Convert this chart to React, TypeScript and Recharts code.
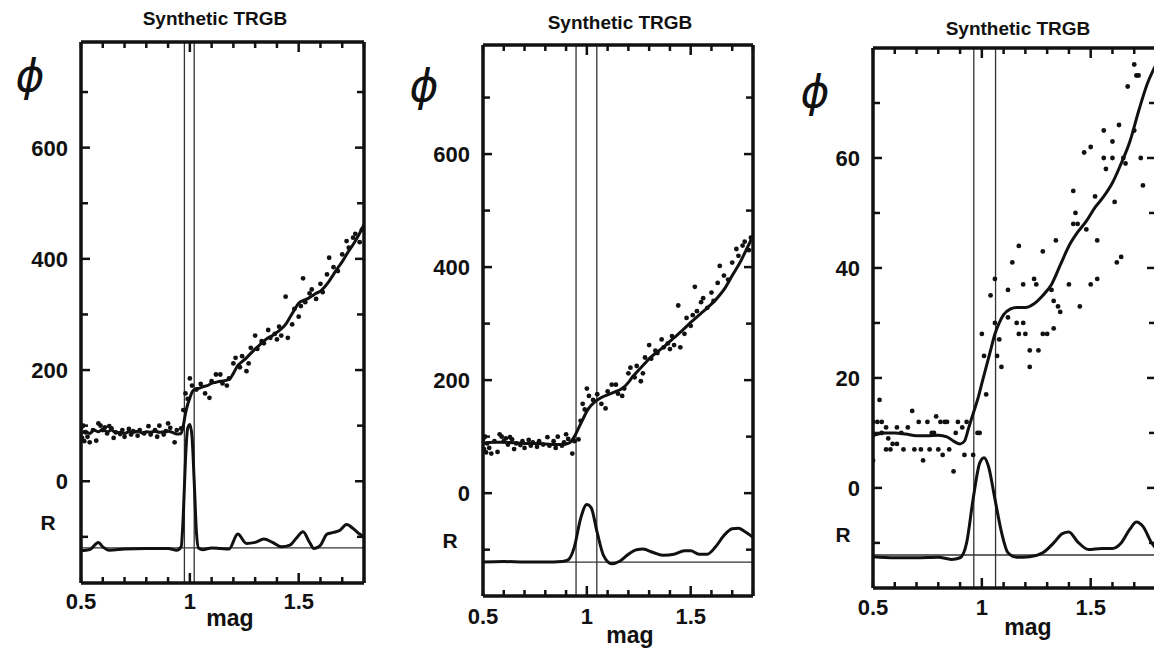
import React from 'react'
import {
    ComposedChart,
    Line,
    Scatter,
    XAxis,
    YAxis,
    ReferenceLine
} from "recharts";

// x ticks (shared by all panels)
const X_TICKS = [0.5, 0.6, 0.7, 0.8, 0.9, 1, 1.1, 1.2, 1.3, 1.4, 1.5, 1.6, 1.7, 1.8];
const X_LABELS = [0.5, 1, 1.5];

const Y_TICKS_BIG = [-100, 0, 100, 200, 300, 400, 500, 600, 700];
const Y_LABELS_BIG = [0, 200, 400, 600];
const Y_TICKS_SMALL = [-10, 0, 10, 20, 30, 40, 50, 60, 70];
const Y_LABELS_SMALL = [0, 20, 40, 60];

// panel 1 + 2 share the same star counts
const POINTS_12 = [
    { x: 0.5, y: 95 }, { x: 0.505, y: 78 }, { x: 0.51, y: 100 }, { x: 0.515, y: 72 }, { x: 0.52, y: 88 },
    { x: 0.53, y: 80 }, { x: 0.54, y: 70 }, { x: 0.555, y: 92 }, { x: 0.57, y: 73 }, { x: 0.58, y: 104 },
    { x: 0.59, y: 100 }, { x: 0.6, y: 92 }, { x: 0.61, y: 97 }, { x: 0.62, y: 86 }, { x: 0.63, y: 99 },
    { x: 0.64, y: 95 }, { x: 0.65, y: 78 }, { x: 0.66, y: 88 }, { x: 0.68, y: 85 }, { x: 0.69, y: 92 },
    { x: 0.7, y: 80 }, { x: 0.72, y: 94 }, { x: 0.73, y: 84 }, { x: 0.74, y: 90 }, { x: 0.76, y: 82 },
    { x: 0.77, y: 92 }, { x: 0.79, y: 86 }, { x: 0.81, y: 99 }, { x: 0.82, y: 84 }, { x: 0.84, y: 92 },
    { x: 0.85, y: 80 }, { x: 0.86, y: 100 }, { x: 0.88, y: 84 }, { x: 0.89, y: 90 }, { x: 0.9, y: 104 },
    { x: 0.91, y: 96 }, { x: 0.93, y: 70 }, { x: 0.94, y: 92 }, { x: 0.96, y: 95 }, { x: 0.97, y: 128 },
    { x: 0.98, y: 158 }, { x: 0.99, y: 148 }, { x: 1.0, y: 185 }, { x: 1.01, y: 172 }, { x: 1.03, y: 165 },
    { x: 1.05, y: 175 }, { x: 1.07, y: 158 }, { x: 1.09, y: 150 }, { x: 1.1, y: 180 }, { x: 1.12, y: 192 },
    { x: 1.14, y: 192 }, { x: 1.15, y: 176 }, { x: 1.17, y: 172 }, { x: 1.18, y: 185 }, { x: 1.2, y: 212 },
    { x: 1.21, y: 222 }, { x: 1.23, y: 205 }, { x: 1.24, y: 225 }, { x: 1.26, y: 198 }, { x: 1.27, y: 212 },
    { x: 1.28, y: 240 }, { x: 1.3, y: 262 }, { x: 1.31, y: 238 }, { x: 1.33, y: 252 }, { x: 1.34, y: 248 },
    { x: 1.36, y: 272 }, { x: 1.37, y: 258 }, { x: 1.39, y: 265 }, { x: 1.4, y: 255 }, { x: 1.41, y: 278 },
    { x: 1.42, y: 262 }, { x: 1.44, y: 332 }, { x: 1.45, y: 258 }, { x: 1.47, y: 282 }, { x: 1.48, y: 310 },
    { x: 1.5, y: 296 }, { x: 1.51, y: 315 }, { x: 1.52, y: 365 }, { x: 1.53, y: 322 }, { x: 1.55, y: 338 },
    { x: 1.56, y: 345 }, { x: 1.58, y: 328 }, { x: 1.6, y: 355 }, { x: 1.61, y: 340 }, { x: 1.63, y: 372 },
    { x: 1.64, y: 402 }, { x: 1.66, y: 385 }, { x: 1.68, y: 378 }, { x: 1.7, y: 408 }, { x: 1.72, y: 432 },
    { x: 1.73, y: 420 }, { x: 1.75, y: 438 }, { x: 1.76, y: 445 }, { x: 1.78, y: 430 }, { x: 1.79, y: 452 }
];

const CURVE_1 = [
    { x: 0.5, y: 85 }, { x: 0.52, y: 90 }, { x: 0.54, y: 86 }, { x: 0.56, y: 92 }, { x: 0.58, y: 89 },
    { x: 0.6, y: 93 }, { x: 0.62, y: 89 }, { x: 0.64, y: 92 }, { x: 0.66, y: 87 }, { x: 0.68, y: 88 },
    { x: 0.7, y: 86 }, { x: 0.72, y: 89 }, { x: 0.74, y: 88 }, { x: 0.76, y: 90 }, { x: 0.78, y: 87 },
    { x: 0.8, y: 89 }, { x: 0.82, y: 88 }, { x: 0.84, y: 90 }, { x: 0.86, y: 88 }, { x: 0.88, y: 89 },
    { x: 0.9, y: 90 }, { x: 0.92, y: 88 }, { x: 0.94, y: 85 }, { x: 0.96, y: 86 }, { x: 0.97, y: 100 },
    { x: 0.98, y: 122 }, { x: 0.99, y: 138 }, { x: 1.0, y: 150 }, { x: 1.01, y: 160 }, { x: 1.02, y: 165 },
    { x: 1.04, y: 167 }, { x: 1.06, y: 170 }, { x: 1.08, y: 172 }, { x: 1.1, y: 176 }, { x: 1.12, y: 178 },
    { x: 1.14, y: 180 }, { x: 1.16, y: 181 }, { x: 1.18, y: 183 }, { x: 1.2, y: 194 }, { x: 1.22, y: 208 },
    { x: 1.24, y: 215 }, { x: 1.26, y: 222 }, { x: 1.28, y: 230 }, { x: 1.3, y: 238 }, { x: 1.32, y: 245 },
    { x: 1.34, y: 252 }, { x: 1.36, y: 258 }, { x: 1.38, y: 262 }, { x: 1.4, y: 268 }, { x: 1.42, y: 274 },
    { x: 1.44, y: 282 }, { x: 1.46, y: 295 }, { x: 1.48, y: 308 }, { x: 1.5, y: 320 }, { x: 1.52, y: 325 },
    { x: 1.54, y: 328 }, { x: 1.56, y: 333 }, { x: 1.58, y: 338 }, { x: 1.6, y: 342 }, { x: 1.62, y: 350 },
    { x: 1.64, y: 360 }, { x: 1.66, y: 372 }, { x: 1.68, y: 384 }, { x: 1.7, y: 395 }, { x: 1.72, y: 408 },
    { x: 1.74, y: 420 }, { x: 1.76, y: 432 }, { x: 1.78, y: 446 }, { x: 1.8, y: 462 }
];

const R_1 = [
    { x: 0.5, y: -125 }, { x: 0.54, y: -123 }, { x: 0.58, y: -110 }, { x: 0.6, y: -118 }, { x: 0.63, y: -124 },
    { x: 0.7, y: -122 }, { x: 0.8, y: -121 }, { x: 0.9, y: -121 }, { x: 0.94, y: -124 }, { x: 0.96, y: -118 },
    { x: 0.97, y: -60 }, { x: 0.98, y: 40 }, { x: 0.99, y: 95 }, { x: 1.0, y: 102 }, { x: 1.01, y: 80 },
    { x: 1.02, y: 0 }, { x: 1.03, y: -90 }, { x: 1.04, y: -120 }, { x: 1.06, y: -123 }, { x: 1.1, y: -120 },
    { x: 1.14, y: -121 }, { x: 1.18, y: -122 }, { x: 1.22, y: -95 }, { x: 1.26, y: -112 }, { x: 1.3, y: -110 },
    { x: 1.34, y: -104 }, { x: 1.38, y: -110 }, { x: 1.42, y: -118 }, { x: 1.46, y: -115 }, { x: 1.49, y: -102 },
    { x: 1.52, y: -91 }, { x: 1.55, y: -110 }, { x: 1.57, y: -121 }, { x: 1.6, y: -115 }, { x: 1.63, y: -95 },
    { x: 1.66, y: -92 }, { x: 1.69, y: -88 }, { x: 1.72, y: -78 }, { x: 1.75, y: -85 }, { x: 1.78, y: -95 },
    { x: 1.8, y: -100 }
];

const CURVE_2 = [
    { x: 0.5, y: 88 }, { x: 0.55, y: 90 }, { x: 0.6, y: 90 }, { x: 0.65, y: 89 }, { x: 0.7, y: 88 },
    { x: 0.75, y: 88 }, { x: 0.8, y: 87 }, { x: 0.85, y: 86 }, { x: 0.88, y: 86 }, { x: 0.9, y: 87 },
    { x: 0.92, y: 90 }, { x: 0.94, y: 100 }, { x: 0.96, y: 115 }, { x: 0.98, y: 130 }, { x: 1.0, y: 145 },
    { x: 1.02, y: 155 }, { x: 1.04, y: 162 }, { x: 1.06, y: 167 }, { x: 1.08, y: 171 }, { x: 1.1, y: 174 },
    { x: 1.12, y: 177 }, { x: 1.14, y: 180 }, { x: 1.16, y: 183 }, { x: 1.18, y: 188 }, { x: 1.2, y: 196 },
    { x: 1.22, y: 206 }, { x: 1.24, y: 214 }, { x: 1.26, y: 222 }, { x: 1.28, y: 230 }, { x: 1.3, y: 238 },
    { x: 1.34, y: 250 }, { x: 1.38, y: 262 }, { x: 1.42, y: 275 }, { x: 1.46, y: 288 }, { x: 1.5, y: 302 },
    { x: 1.54, y: 315 }, { x: 1.58, y: 328 }, { x: 1.62, y: 342 }, { x: 1.66, y: 360 }, { x: 1.7, y: 385 },
    { x: 1.74, y: 410 }, { x: 1.78, y: 440 }, { x: 1.8, y: 455 }
];

const R_2 = [
    { x: 0.5, y: -122 }, { x: 0.6, y: -121 }, { x: 0.7, y: -122 }, { x: 0.8, y: -122 }, { x: 0.88, y: -121 },
    { x: 0.91, y: -118 }, { x: 0.94, y: -95 }, { x: 0.97, y: -45 }, { x: 1.0, y: -20 }, { x: 1.02, y: -25 },
    { x: 1.05, y: -70 }, { x: 1.08, y: -110 }, { x: 1.12, y: -125 }, { x: 1.16, y: -120 }, { x: 1.2, y: -108 },
    { x: 1.24, y: -100 }, { x: 1.27, y: -99 }, { x: 1.32, y: -105 }, { x: 1.37, y: -110 }, { x: 1.42, y: -108 },
    { x: 1.47, y: -102 }, { x: 1.5, y: -102 }, { x: 1.54, y: -108 }, { x: 1.58, y: -108 }, { x: 1.62, y: -95 },
    { x: 1.66, y: -75 }, { x: 1.7, y: -63 }, { x: 1.73, y: -62 }, { x: 1.76, y: -68 }, { x: 1.8, y: -78 }
];

const POINTS_3 = [
    { x: 0.5, y: 12 }, { x: 0.5, y: 5 }, { x: 0.52, y: 12 }, { x: 0.53, y: 16 }, { x: 0.54, y: 12 },
    { x: 0.54, y: 10 }, { x: 0.56, y: 11 }, { x: 0.56, y: 7 }, { x: 0.57, y: 9 }, { x: 0.58, y: 7 },
    { x: 0.59, y: 8 }, { x: 0.61, y: 11 }, { x: 0.61, y: 8 }, { x: 0.63, y: 10 }, { x: 0.64, y: 7 },
    { x: 0.66, y: 11 }, { x: 0.68, y: 14 }, { x: 0.69, y: 7 }, { x: 0.71, y: 12 }, { x: 0.72, y: 7 },
    { x: 0.73, y: 5 }, { x: 0.75, y: 12 }, { x: 0.76, y: 7 }, { x: 0.77, y: 10 }, { x: 0.78, y: 10 },
    { x: 0.79, y: 13 }, { x: 0.8, y: 7 }, { x: 0.81, y: 12 }, { x: 0.82, y: 6 }, { x: 0.83, y: 12 },
    { x: 0.84, y: 12 }, { x: 0.85, y: 7 }, { x: 0.87, y: 3 }, { x: 0.88, y: 10 }, { x: 0.89, y: 12 },
    { x: 0.91, y: 11 }, { x: 0.92, y: 6 }, { x: 0.93, y: 12 }, { x: 0.96, y: 6 }, { x: 0.98, y: 10 },
    { x: 0.99, y: 10 }, { x: 1.0, y: 28 }, { x: 1.01, y: 24 }, { x: 1.02, y: 17 }, { x: 1.04, y: 35 },
    { x: 1.06, y: 38 }, { x: 1.06, y: 30 }, { x: 1.07, y: 24 }, { x: 1.08, y: 27 }, { x: 1.09, y: 22 },
    { x: 1.12, y: 36 }, { x: 1.12, y: 31 }, { x: 1.14, y: 41 }, { x: 1.16, y: 30 }, { x: 1.17, y: 44 },
    { x: 1.17, y: 28 }, { x: 1.19, y: 37 }, { x: 1.19, y: 30 }, { x: 1.2, y: 28 }, { x: 1.22, y: 25 },
    { x: 1.22, y: 22 }, { x: 1.24, y: 38 }, { x: 1.25, y: 37 }, { x: 1.26, y: 25 }, { x: 1.28, y: 43 },
    { x: 1.28, y: 28 }, { x: 1.3, y: 28 }, { x: 1.32, y: 36 }, { x: 1.33, y: 34 }, { x: 1.33, y: 29 },
    { x: 1.34, y: 45 }, { x: 1.35, y: 33 }, { x: 1.36, y: 32 }, { x: 1.4, y: 37 }, { x: 1.42, y: 54 },
    { x: 1.42, y: 48 }, { x: 1.43, y: 50 }, { x: 1.44, y: 48 }, { x: 1.45, y: 33 }, { x: 1.47, y: 61 },
    { x: 1.48, y: 47 }, { x: 1.5, y: 62 }, { x: 1.5, y: 37 }, { x: 1.52, y: 53 }, { x: 1.53, y: 45 },
    { x: 1.53, y: 38 }, { x: 1.56, y: 65 }, { x: 1.56, y: 60 }, { x: 1.57, y: 58 }, { x: 1.6, y: 63 },
    { x: 1.6, y: 60 }, { x: 1.61, y: 52 }, { x: 1.62, y: 41 }, { x: 1.63, y: 66 }, { x: 1.64, y: 42 },
    { x: 1.65, y: 60 }, { x: 1.66, y: 59 }, { x: 1.67, y: 73 }, { x: 1.7, y: 77 }, { x: 1.71, y: 75 },
    { x: 1.72, y: 75 }, { x: 1.7, y: 65 }, { x: 1.74, y: 55 }, { x: 1.73, y: 60 }
];

const CURVE_3 = [
    { x: 0.5, y: 9.5 }, { x: 0.55, y: 10 }, { x: 0.6, y: 10 }, { x: 0.65, y: 9.8 }, { x: 0.7, y: 9.5 },
    { x: 0.75, y: 9.5 }, { x: 0.8, y: 9.6 }, { x: 0.84, y: 9.3 }, { x: 0.87, y: 8.5 }, { x: 0.9, y: 8 },
    { x: 0.92, y: 8.5 }, { x: 0.94, y: 11 }, { x: 0.96, y: 13.5 }, { x: 0.98, y: 16 }, { x: 1.0, y: 19 },
    { x: 1.02, y: 22 }, { x: 1.04, y: 25 }, { x: 1.06, y: 28 }, { x: 1.08, y: 30 }, { x: 1.1, y: 31.5 },
    { x: 1.13, y: 32.5 }, { x: 1.16, y: 32.8 }, { x: 1.2, y: 32.8 }, { x: 1.24, y: 33.5 }, { x: 1.28, y: 35 },
    { x: 1.32, y: 37 }, { x: 1.36, y: 40.5 }, { x: 1.4, y: 44 }, { x: 1.44, y: 46.5 }, { x: 1.48, y: 48.5 },
    { x: 1.52, y: 51 }, { x: 1.56, y: 53 }, { x: 1.6, y: 55.5 }, { x: 1.64, y: 59 }, { x: 1.68, y: 63 },
    { x: 1.72, y: 68.5 }, { x: 1.76, y: 73.5 }, { x: 1.8, y: 77 }
];

const R_3 = [
    { x: 0.5, y: -12.5 }, { x: 0.6, y: -12.7 }, { x: 0.7, y: -12.7 }, { x: 0.8, y: -12.6 }, { x: 0.86, y: -13 },
    { x: 0.9, y: -12.7 }, { x: 0.93, y: -10 }, { x: 0.96, y: -2 }, { x: 0.99, y: 4.5 }, { x: 1.01, y: 5.5 },
    { x: 1.03, y: 4 }, { x: 1.06, y: -2 }, { x: 1.09, y: -8 }, { x: 1.12, y: -11.8 }, { x: 1.16, y: -12.6 },
    { x: 1.22, y: -12.5 }, { x: 1.28, y: -11.8 }, { x: 1.33, y: -10 }, { x: 1.37, y: -8.3 }, { x: 1.4, y: -8 },
    { x: 1.44, y: -9.8 }, { x: 1.49, y: -11.2 }, { x: 1.55, y: -11 }, { x: 1.6, y: -11 }, { x: 1.64, y: -10 },
    { x: 1.68, y: -7.5 }, { x: 1.71, y: -6.2 }, { x: 1.74, y: -7 }, { x: 1.78, y: -10 }, { x: 1.8, y: -11 }
];

const FONT = '"Liberation Sans", Arial, sans-serif';
const INK = '#111';

const isIn = (v: number, list: number[]) => list.some((l) => Math.abs(l - v) < 1e-6);

const makeXTick = (side: 'top' | 'bottom', labelDy: number) => (props: any) => {
    const { x, y, payload } = props;
    const major = isIn(payload.value, X_LABELS) && payload.value !== 0.5;
    const len = major ? 10 : 6;
    const dir = side === 'bottom' ? -1 : 1;
    return (
        <g>
            <line x1={x} y1={y} x2={x} y2={y + dir * len} stroke={INK} strokeWidth={2.5} />
            {side === 'bottom' && isIn(payload.value, X_LABELS) && (
                <text x={x} y={y + labelDy} textAnchor="middle" fontFamily={FONT} fontWeight="bold" fontSize={22} fill={INK}>
                    {payload.value}
                </text>
            )}
        </g>
    );
};

const makeYTick = (side: 'left' | 'right', labels: number[]) => (props: any) => {
    const { x, y, payload } = props;
    const major = isIn(payload.value, labels);
    const len = major ? 9 : 7;
    const dir = side === 'left' ? 1 : -1;
    return (
        <g>
            <line x1={x} y1={y} x2={x + dir * len} y2={y} stroke={INK} strokeWidth={2.5} />
            {side === 'left' && major && (
                <text x={x - 13} y={y + 8} textAnchor="end" fontFamily={FONT} fontWeight="bold" fontSize={22} fill={INK}>
                    {payload.value}
                </text>
            )}
        </g>
    );
};

const Dot = (props: any) => <circle cx={props.cx} cy={props.cy} r={2.4} fill={INK} />;

interface PanelProps {
    left: number
    top: number
    width: number
    height: number
    plot: { l: number, r: number, t: number, b: number }
    yDomain: [number, number]
    yTicks: number[]
    yLabels: number[]
    labelDy: number
    points: { x: number, y: number }[]
    curve: { x: number, y: number }[]
    r: { x: number, y: number }[]
    rZero: number
    lines: number[]
}

const Panel = (p: PanelProps) => {
    const frame = { stroke: INK, strokeWidth: 3.5 };
    return (
        <div style={{ position: 'absolute', left: p.left, top: p.top }}>
            <ComposedChart
                width={p.width}
                height={p.height}
                margin={{ top: 0, right: 0, bottom: 0, left: 0 }}
                style={{ overflow: 'visible' }}
            >
                <XAxis xAxisId="b" dataKey="x" type="number" domain={[0.5, 1.8]} allowDataOverflow
                    ticks={X_TICKS} interval={0} height={p.plot.b} orientation="bottom"
                    axisLine={frame} tickLine={false} tickSize={0} tickMargin={0} tick={makeXTick('bottom', p.labelDy)} />
                <XAxis xAxisId="t" dataKey="x" type="number" domain={[0.5, 1.8]} allowDataOverflow
                    ticks={X_TICKS} interval={0} height={p.plot.t} orientation="top"
                    axisLine={frame} tickLine={false} tickSize={0} tickMargin={0} tick={makeXTick('top', 0)} />
                <YAxis yAxisId="l" type="number" domain={p.yDomain} allowDataOverflow ticks={p.yTicks} interval={0}
                    width={p.plot.l} orientation="left" axisLine={frame} tickLine={false} tickSize={0} tickMargin={0}
                    tick={makeYTick('left', p.yLabels)} />
                <YAxis yAxisId="r" type="number" domain={p.yDomain} allowDataOverflow ticks={p.yTicks} interval={0}
                    width={p.plot.r} orientation="right" axisLine={frame} tickLine={false} tickSize={0} tickMargin={0}
                    tick={makeYTick('right', p.yLabels)} />
                {p.lines.map((v) => (
                    <ReferenceLine key={v} xAxisId="b" yAxisId="l" x={v} stroke="#333" strokeWidth={1.3} />
                ))}
                <ReferenceLine xAxisId="b" yAxisId="l" y={p.rZero} stroke="#333" strokeWidth={1.3} />
                <Scatter xAxisId="b" yAxisId="l" data={p.points} dataKey="y" shape={Dot} isAnimationActive={false} />
                <Line xAxisId="b" yAxisId="l" data={p.curve} dataKey="y" type="monotone" stroke={INK}
                    strokeWidth={3} dot={false} isAnimationActive={false} />
                <Line xAxisId="b" yAxisId="l" data={p.r} dataKey="y" type="monotone" stroke={INK}
                    strokeWidth={3} dot={false} isAnimationActive={false} />
            </ComposedChart>
        </div>
    );
};

const Label = ({ x, y, size, children, italic, family, weight }: any) => (
    <div style={{
        position: 'absolute', left: x, top: y, transform: 'translate(-50%, -50%)',
        fontFamily: family || FONT, fontSize: size, fontWeight: weight || 'bold',
        fontStyle: italic ? 'italic' : 'normal', lineHeight: 1, whiteSpace: 'nowrap', color: INK
    }}>
        {children}
    </div>
);

const PHI_FONT = '"DejaVu Sans", sans-serif';

const App = () => {
    return (
        <div style={{ position: 'fixed', left: 0, top: 0, width: 1154, height: 648, overflow: 'hidden', background: '#fff' }}>
            <Panel left={0} top={0} width={380} height={648}
                plot={{ l: 81, r: 16, t: 42, b: 65 }} yDomain={[-183, 790]}
                yTicks={Y_TICKS_BIG} yLabels={Y_LABELS_BIG} labelDy={26}
                points={POINTS_12} curve={CURVE_1} r={R_1} rZero={-120} lines={[0.975, 1.02]} />
            <Panel left={390} top={0} width={380} height={648}
                plot={{ l: 93, r: 17, t: 45, b: 52 }} yDomain={[-182, 793]}
                yTicks={Y_TICKS_BIG} yLabels={Y_LABELS_BIG} labelDy={28}
                points={POINTS_12} curve={CURVE_2} r={R_2} rZero={-122} lines={[0.948, 1.048]} />
            <Panel left={775} top={0} width={390} height={648}
                plot={{ l: 98, r: 9, t: 48, b: 60 }} yDomain={[-18.2, 80]}
                yTicks={Y_TICKS_SMALL} yLabels={Y_LABELS_SMALL} labelDy={27}
                points={POINTS_3} curve={CURVE_3} r={R_3} rZero={-12.2} lines={[0.963, 1.063]} />

            <Label x={215} y={18} size={19}>Synthetic TRGB</Label>
            <Label x={620} y={22} size={19}>Synthetic TRGB</Label>
            <Label x={1018} y={28} size={19}>Synthetic TRGB</Label>

            <Label x={30} y={76} size={44} italic weight="normal" family={PHI_FONT}>ϕ</Label>
            <Label x={424} y={86} size={44} italic weight="normal" family={PHI_FONT}>ϕ</Label>
            <Label x={815} y={92} size={44} italic weight="normal" family={PHI_FONT}>ϕ</Label>

            <Label x={48} y={522} size={21}>R</Label>
            <Label x={450} y={540} size={21}>R</Label>
            <Label x={843} y={534} size={21}>R</Label>

            <Label x={230} y={618} size={23}>mag</Label>
            <Label x={630} y={635} size={23}>mag</Label>
            <Label x={1028} y={627} size={23}>mag</Label>
        </div>
    );
};

export default App;
